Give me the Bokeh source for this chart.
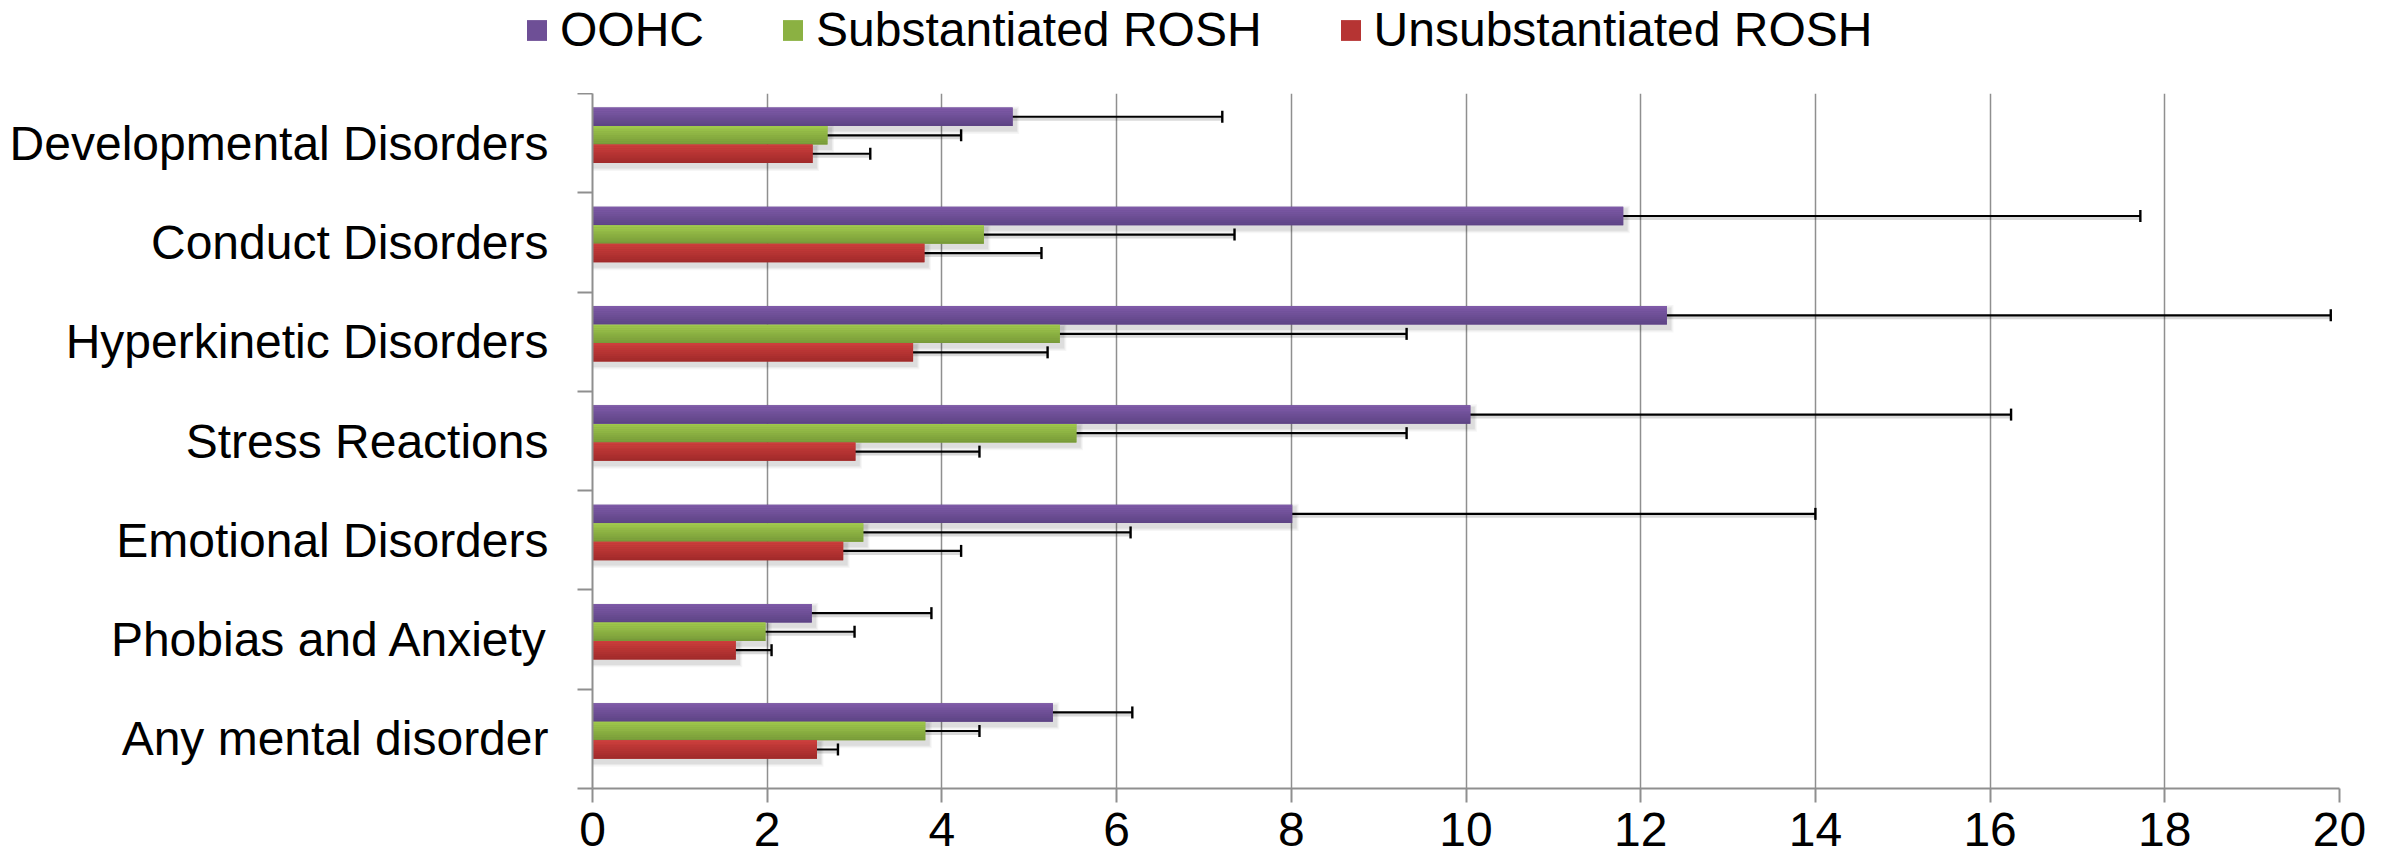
from bokeh.plotting import figure
from bokeh.layouts import column, row
from bokeh.models import (Range1d, FixedTicker, Whisker, ColumnDataSource, Legend,
                          LegendItem, TeeHead)
from bokeh.embed import file_html
from bokeh.resources import INLINE

categories = ["Developmental Disorders", "Conduct Disorders", "Hyperkinetic Disorders",
              "Stress Reactions", "Emotional Disorders", "Phobias and Anxiety",
              "Any mental disorder"]
series = ["OOHC", "Substantiated ROSH", "Unsubstantiated ROSH"]

oohc = [4.81, 11.80, 12.30, 10.05, 8.01, 2.51, 5.27]
oohc_lo = [3.20, 7.86, 7.60, 6.24, 4.58, 1.61, 4.46]
oohc_hi = [7.21, 17.72, 19.90, 16.24, 14.00, 3.88, 6.18]

sub = [2.69, 4.48, 5.35, 5.54, 3.10, 1.98, 3.81]
sub_lo = [1.75, 2.71, 3.10, 3.29, 1.54, 1.31, 3.26]
sub_hi = [4.22, 7.35, 9.32, 9.32, 6.16, 3.00, 4.43]

unsub = [2.52, 3.80, 3.67, 3.01, 2.87, 1.64, 2.57]
unsub_lo = [1.98, 2.78, 2.59, 2.06, 1.94, 1.29, 2.34]
unsub_hi = [3.18, 5.14, 5.21, 4.43, 4.22, 2.05, 2.81]

x_ticks = [0, 2, 4, 6, 8, 10, 12, 14, 16, 18, 20]

# styling
top_colors = [(128, 91, 169), (161, 202, 77), (206, 63, 61)]
bot_colors = [(92, 67, 131), (118, 152, 56), (158, 41, 41)]
bar_offsets = [0.141, 0.328, 0.514]   # distance of bar top from band top
bar_h = 0.186
N_STRIPS = 10
FONT = "Liberation Sans"
FS = "48px"
GRAY = "#8f8f8f"
W = 2397
LEG_H = 93

ncat = len(categories)
values = [oohc, sub, unsub]
lows = [oohc_lo, sub_lo, unsub_lo]
highs = [oohc_hi, sub_hi, unsub_hi]


def hexc(c):
    return "#%02x%02x%02x" % c


p = figure(width=W, height=866 - LEG_H, output_backend="svg", toolbar_location=None,
           x_range=Range1d(0, 20), y_range=Range1d(0, ncat),
           min_border_left=592, min_border_right=58, min_border_top=0,
           min_border_bottom=78)
p.outline_line_color = None
p.background_fill_color = "white"

band_tops = [ncat - i for i in range(ncat)]

# soft drop shadows
for s in range(3):
    for k, a in [(0.045, 0.035), (0.032, 0.045), (0.02, 0.06)]:
        ys = [bt - bar_offsets[s] - bar_h / 2 - 0.035 for bt in band_tops]
        p.hbar(y=ys, left=0, right=[v + 0.03 + k for v in values[s]],
               height=bar_h + 2 * k, fill_color="black", fill_alpha=a, line_color=None)

for s in range(3):
    mc = tuple((top_colors[s][m] + bot_colors[s][m]) // 2 for m in range(3))
    ys_full = [bt - bar_offsets[s] - bar_h / 2 for bt in band_tops]
    p.hbar(y=ys_full, left=0, right=values[s], height=bar_h,
           fill_color=hexc(mc), line_color=None)
    for j in range(N_STRIPS):
        t = (j + 0.5) / N_STRIPS
        c = tuple(int(round(top_colors[s][m] + (bot_colors[s][m] - top_colors[s][m]) * t)) for m in range(3))
        ys = [bt - bar_offsets[s] - (j + 0.5) * bar_h / N_STRIPS for bt in band_tops]
        p.hbar(y=ys, left=0, right=values[s], height=bar_h / N_STRIPS,
               fill_color=hexc(c), line_color=None)

# error bars
for s in range(3):
    ys = [bt - bar_offsets[s] - bar_h / 2 for bt in band_tops]
    src_sh = ColumnDataSource(dict(y=[y - 0.025 for y in ys], lo=lows[s], hi=highs[s]))
    src = ColumnDataSource(dict(y=ys, lo=lows[s], hi=highs[s]))
    wsh = Whisker(source=src_sh, base="y", lower="lo", upper="hi", dimension="width",
                  line_color="#000000", line_alpha=0.15, line_width=3,
                  upper_head=None, lower_head=None)
    p.add_layout(wsh)
    w = Whisker(source=src, base="y", lower="lo", upper="hi", dimension="width",
                line_color="black", line_width=2.2,
                upper_head=TeeHead(size=12, line_width=2.4, line_color="black"),
                lower_head=TeeHead(size=12, line_width=2.4, line_color="black"))
    p.add_layout(w)

# axes
p.xaxis.ticker = FixedTicker(ticks=x_ticks, minor_ticks=[])
p.xaxis.axis_line_color = GRAY
p.xaxis.axis_line_width = 2
p.xaxis.major_tick_line_color = GRAY
p.xaxis.major_tick_line_width = 2
p.xaxis.major_tick_out = 14
p.xaxis.major_tick_in = 0
p.xaxis.minor_tick_line_color = None
p.xaxis.major_label_text_font = FONT
p.xaxis.major_label_text_font_size = FS
p.xaxis.major_label_text_color = "black"
p.xaxis.major_label_standoff = 10

centers = [bt - 0.5 for bt in band_tops]
p.yaxis.ticker = FixedTicker(ticks=centers, minor_ticks=list(range(ncat + 1)))
p.yaxis.major_label_overrides = {c: name for c, name in zip(centers, categories)}
p.yaxis.axis_line_color = GRAY
p.yaxis.axis_line_width = 2
p.yaxis.major_tick_line_color = None
p.yaxis.major_tick_out = 0
p.yaxis.major_tick_in = 0
p.yaxis.minor_tick_line_color = GRAY
p.yaxis.minor_tick_line_width = 2
p.yaxis.minor_tick_out = 15
p.yaxis.minor_tick_in = 0
p.yaxis.major_label_text_font = FONT
p.yaxis.major_label_text_font_size = FS
p.yaxis.major_label_text_color = "black"
p.yaxis.major_label_standoff = 29

p.xgrid.grid_line_color = GRAY
p.xgrid.grid_line_width = 1.5
p.ygrid.grid_line_color = None

# legend strip above the chart (its own figure; series glyphs kept off-frame)
lg = figure(width=W, height=LEG_H, output_backend="svg", toolbar_location=None,
            x_range=Range1d(1000, 1001), y_range=Range1d(1000, 1001),
            x_axis_type=None, y_axis_type=None,
            min_border_left=0, min_border_right=0, min_border_top=0, min_border_bottom=0)
lg.outline_line_color = None
lg.xgrid.visible = False
lg.ygrid.visible = False
leg_items = []
for s in range(3):
    mc = tuple((top_colors[s][m] + bot_colors[s][m]) // 2 for m in range(3))
    ys_full = [bt - bar_offsets[s] - bar_h / 2 for bt in band_tops]
    r = lg.hbar(y=ys_full, left=0, right=values[s], height=bar_h,
                fill_color=hexc(mc), line_color=None)
    leg_items.append(LegendItem(label=series[s], renderers=[r]))

legend = Legend(items=leg_items, orientation="horizontal", location=(524, 36),
                glyph_width=25, glyph_height=26, label_standoff=11, spacing=76,
                padding=0, margin=0, border_line_color=None, background_fill_alpha=0,
                label_text_font=FONT, label_text_font_size=FS, label_text_color="black")
lg.add_layout(legend)

open("out.html", "w").write(file_html(column(row(lg), p, spacing=0), INLINE))
